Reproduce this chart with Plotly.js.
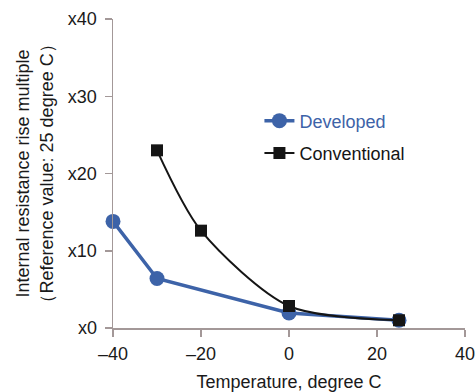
<!DOCTYPE html>
<html>
<head>
<meta charset="utf-8">
<script src="https://cdn.plot.ly/plotly-3.0.1.min.js"></script>
<style>html,body{margin:0;padding:0;background:#fff;}#chart{width:475px;height:392px;}</style>
</head>
<body>
<div id="chart"></div>
<script>
var temperature = [-40, -30, 0, 25];
var developed = [13.8, 6.4, 1.95, 1.0];
var convTemperature = [-30, -20, 0, 25];
var conventional = [23.0, 12.6, 2.85, 1.0];
var xTickVals = [-40, -20, 0, 20, 40];
var xTickText = ['\u201340', '\u201320', '0', '20', '40'];
var yTickVals = [0, 10, 20, 30, 40];
var yTickText = ['x0', 'x10', 'x20', 'x30', 'x40'];

var blue = '#3d63a8';
var black = '#151515';
var axisColor = '#a39898';
var font = 'Liberation Sans, Arial, sans-serif';

var traces = [
  {
    x: temperature, y: developed, name: '<span style="color:' + blue + '">Developed</span>',
    type: 'scatter', mode: 'lines+markers',
    line: {color: blue, width: 3.5},
    marker: {color: blue, size: 15, symbol: 'circle'},
    cliponaxis: false, legend: 'legend'
  },
  {
    x: convTemperature, y: conventional, name: 'Conventional',
    type: 'scatter', mode: 'lines+markers',
    line: {color: black, width: 2, shape: 'spline', smoothing: 0.8},
    marker: {color: black, size: 12, symbol: 'square'},
    cliponaxis: false, legend: 'legend2'
  }
];

var layout = {
  width: 475, height: 392,
  margin: {l: 113, r: 10, t: 19, b: 64},
  paper_bgcolor: '#fff', plot_bgcolor: '#fff',
  font: {family: font, size: 18, color: '#1a1a1a'},
  xaxis: {
    range: [-40, 40], tickvals: xTickVals, ticktext: xTickText,
    showgrid: false, zeroline: false, showline: true, linecolor: axisColor, linewidth: 1.5,
    ticks: 'outside', ticklen: 7, tickcolor: axisColor, tickwidth: 1.5, ticklabelstandoff: 2,
    ticklabeloverflow: 'allow',
    tickfont: {size: 18, color: '#1a1a1a'},
    title: {text: 'Temperature, degree C', font: {size: 18}, standoff: 14}
  },
  yaxis: {
    range: [0, 40], tickvals: yTickVals, ticktext: yTickText,
    showgrid: false, zeroline: false, showline: true, linecolor: axisColor, linewidth: 1.5,
    ticks: 'outside', ticklen: 7, tickcolor: axisColor, tickwidth: 1.5, ticklabelstandoff: 4,
    ticklabeloverflow: 'allow',
    tickfont: {size: 18, color: '#1a1a1a'}
  },
  annotations: [
    {text: 'Internal resistance rise multiple', xref: 'paper', yref: 'paper', x: 0, y: 0.5,
     xshift: -103, textangle: -90, showarrow: false, font: {size: 18, color: '#1a1a1a'}},
    {text: '\uff08Reference value: 25 degree C\uff09', xref: 'paper', yref: 'paper', x: 0, y: 0.5,
     xshift: -79, textangle: -90, showarrow: false, font: {size: 18, color: '#1a1a1a'}}
  ],
  legend: {x: 0.416, y: 0.67, xanchor: 'left', yanchor: 'middle', bgcolor: 'rgba(0,0,0,0)',
           font: {size: 18}},
  legend2: {x: 0.416, y: 0.565, xanchor: 'left', yanchor: 'middle', bgcolor: 'rgba(0,0,0,0)',
           font: {size: 18, color: black}},
  showlegend: true
};

Plotly.newPlot('chart', traces, layout, {displayModeBar: false, staticPlot: true});
</script>
</body>
</html>
